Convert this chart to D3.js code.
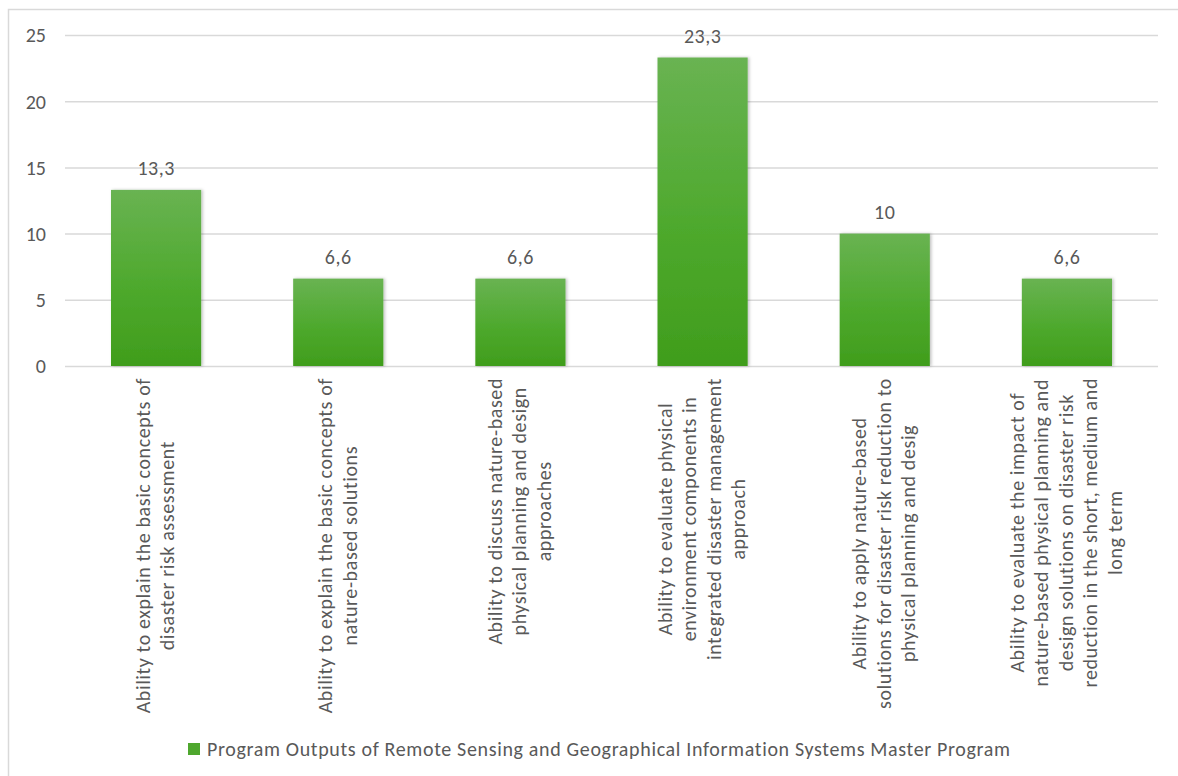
<!DOCTYPE html>
<html>
<head>
<meta charset="utf-8">
<script src="https://cdn.jsdelivr.net/npm/d3@7"></script>
<style>
  html, body { margin: 0; padding: 0; background: #fff; }
  svg { display: block; }
  text { font-family: Carlito, Calibri, Lato, "Open Sans", sans-serif; fill: #595959; }
</style>
</head>
<body>
<svg id="chart" width="1178" height="776"></svg>
<script>
// Program outcome categories (each entry is the wrapped label lines)
const categories = [
  ["Ability to explain the basic concepts of", "disaster risk assessment"],
  ["Ability to explain the basic concepts of", "nature-based solutions"],
  ["Ability to discuss nature-based", "physical planning and design", "approaches"],
  ["Ability to evaluate physical", "environment components in", "integrated disaster management", "approach"],
  ["Ability to apply nature-based", "solutions for disaster risk reduction to", "physical planning and desig"],
  ["Ability to evaluate the impact of", "nature-based physical planning and", "design solutions on disaster risk", "reduction in the short, medium and", "long term"]
];
const values = [13.3, 6.6, 6.6, 23.3, 10, 6.6];
const yTicks = [0, 5, 10, 15, 20, 25];
const seriesName = "Program Outputs of Remote Sensing and Geographical Information Systems Master Program";

const svg = d3.select("#chart");
const W = 1178, H = 776;
const plot = { left: 65, right: 1158, top: 35, bottom: 366 };

// Outer chart frame
svg.append("rect")
  .attr("x", 8.5).attr("y", 9.5)
  .attr("width", W + 20).attr("height", H + 20)
  .attr("fill", "#fff").attr("stroke", "#d9d9d9").attr("stroke-width", 1.5);

const defs = svg.append("defs");
const grad = defs.append("linearGradient")
  .attr("id", "barGrad").attr("x1", 0).attr("y1", 0).attr("x2", 0).attr("y2", 1);
grad.append("stop").attr("offset", "0%").attr("stop-color", "#69b352");
grad.append("stop").attr("offset", "55%").attr("stop-color", "#4ea92d");
grad.append("stop").attr("offset", "100%").attr("stop-color", "#409d1c");

const shadow = defs.append("filter").attr("id", "barShadow")
  .attr("x", "-10%").attr("y", "-10%").attr("width", "130%").attr("height", "120%");
shadow.append("feDropShadow")
  .attr("dx", 1.5).attr("dy", 0).attr("stdDeviation", 1.5)
  .attr("flood-color", "#000").attr("flood-opacity", 0.25);

const x = d3.scaleBand()
  .domain(d3.range(categories.length))
  .range([plot.left, plot.right])
  .paddingInner(0.505).paddingOuter(0.2525);

const y = d3.scaleLinear().domain([0, 25]).range([plot.bottom, plot.top]);

// Gridlines and y tick labels
const yAxis = d3.axisLeft(y).tickValues(yTicks)
  .tickSize(-(plot.right - plot.left)).tickPadding(19);
const gy = svg.append("g").attr("transform", `translate(${plot.left},0)`).call(yAxis);
gy.select(".domain").remove();
gy.selectAll(".tick line").attr("stroke", "#d9d9d9").attr("stroke-width", 1.5);
gy.selectAll(".tick text")
  .attr("font-size", 20).attr("fill", "#595959")
  .style("font-family", "Carlito, Calibri, Lato, sans-serif")
  .attr("dy", "0.34em");

// Bars
svg.append("g").selectAll("rect")
  .data(values)
  .join("rect")
  .attr("x", (d, i) => x(i))
  .attr("y", d => y(d))
  .attr("width", x.bandwidth())
  .attr("height", d => y(0) - y(d))
  .attr("fill", "url(#barGrad)")
  .attr("filter", "url(#barShadow)");

// Value labels
const fmt = v => String(v).replace(".", ",");
svg.append("g").selectAll("text")
  .data(values)
  .join("text")
  .attr("x", (d, i) => x(i) + x.bandwidth() / 2)
  .attr("y", d => y(d) - 15)
  .attr("text-anchor", "middle")
  .attr("font-size", 20)
  .style("letter-spacing", "0.5px")
  .text(d => fmt(d));

// Rotated, wrapped category labels
const lineH = 24.5;
const labelTop = 378;
const fs = 20;
categories.forEach((lines, i) => {
  const cx = x(i) + x.bandwidth() / 2;
  const g = svg.append("g");
  const texts = g.selectAll("text").data(lines).join("text")
    .attr("font-size", fs)
    .style("letter-spacing", "0.6px")
    .attr("text-anchor", "middle")
    .text(d => d);
  const maxLen = d3.max(texts.nodes(), n => n.getComputedTextLength());
  const mid = labelTop + maxLen / 2;
  const n = lines.length;
  texts.attr("transform", (d, k) => {
    const bx = cx + (k - (n - 1) / 2) * lineH + 6;
    return `translate(${bx},${mid}) rotate(-90)`;
  });
});

// Legend
const legend = svg.append("g").attr("transform", "translate(188,743)");
legend.append("rect").attr("width", 12).attr("height", 12).attr("fill", "#4ea72e");
legend.append("text").attr("x", 19).attr("y", 12.5).attr("font-size", 20)
  .style("letter-spacing", "0.65px").text(seriesName);
</script>
</body>
</html>
